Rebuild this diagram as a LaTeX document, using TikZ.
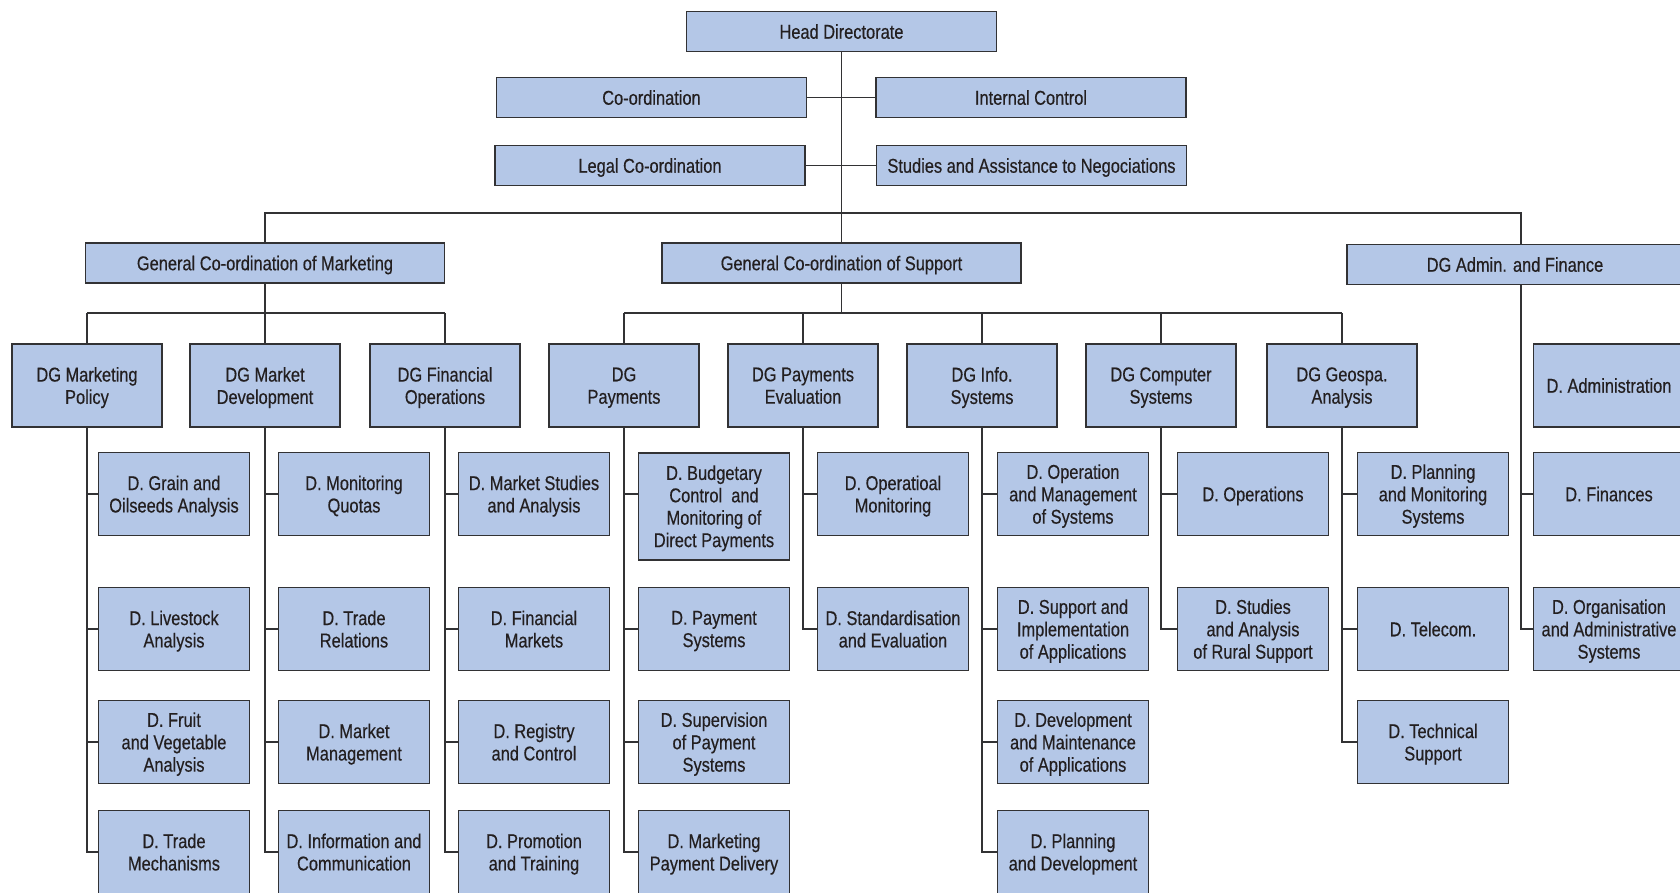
\documentclass[tikz,border=0pt]{standalone}
\usepackage{fontspec}
\setmainfont[FakeStretch=0.82,FakeBold=0.4]{Liberation Sans}
\usepackage{xcolor}
\definecolor{orgblue}{RGB}{180,199,231}
\definecolor{orgline}{RGB}{50,50,52}
\definecolor{orgtext}{RGB}{35,31,32}
\usetikzlibrary{positioning,calc}

\tikzset{
  unit/.style={draw=orgline,line width=1.5pt,fill=orgblue,text=orgtext,align=center,
    inner sep=0pt,text depth=0pt,font=\fontsize{20}{22.4}\selectfont},
  wide/.style={unit,minimum width=310pt,minimum height=40pt},
  dgbox/.style={unit,minimum width=150pt,minimum height=83pt},
  dept/.style={unit,minimum width=151pt,minimum height=83pt},
  link/.style={draw=orgline,line width=1.3pt}
}

\begin{document}
\begin{tikzpicture}[x=1pt,y=-1pt]
  \useasboundingbox (0,0) rectangle (1680,893);

  % top of the chart
  \node[wide] (head) at (841.5,31.5) {Head Directorate};
  \node[wide] (coord) at (651.5,97.5) {Co-ordination};
  \node[wide] (intctl) at (1031,97.5) {Internal Control};
  \node[wide] (legal) at (650,165.5) {Legal Co-ordination};
  \node[wide] (studies) at (1031.5,165.5) {Studies and Assistance to Negociations};
  \node[wide,minimum width=359pt] (gcmkt) at (265,263) {General Co-ordination of Marketing};
  \node[wide,minimum width=359pt] (gcsup) at (841.5,263) {General Co-ordination of Support};
  \node[wide,minimum width=336pt] (dgadmin) at (1515,264.5) {DG Admin. and Finance};

  \coordinate (abus) at (1521,213);
  \coordinate (mbus) at (0,313);
  \foreach \r/\y in {1/494,2/629,3/742,4/852}
    \coordinate (r\r) at (0,\y);

  \draw[link] (head) -- (gcsup);
  \draw[link] (coord) -- (intctl);
  \draw[link] (legal) -- (studies);
  \draw[link] (gcmkt.north) |- (abus) -- (abus |- dgadmin.north);

  % directorates general, with the centre of their column of directorates
  \foreach \n/\x/\cx/\txt in {mpol/87/174/{DG Marketing\\Policy}, mdev/265/354/{DG Market\\Development},
      fop/445/534/{DG Financial\\Operations}, pay/624/714/{DG\\Payments}, peval/803/893/{DG Payments\\Evaluation},
      info/982/1073/{DG Info.\\Systems}, comp/1161/1253/{DG Computer\\Systems}, geo/1342/1433/{DG Geospa.\\Analysis}}
  {
    \node[dgbox] (\n) at (\x,385.5) {\txt};
    \coordinate (\n-c) at (\cx,0);
    \draw[link] (\n.north) -- (\n.north |- mbus);
  }
  \node[dept] (admin-0) at (1609,385.5) {D. Administration};

  \draw[link] (gcmkt) -- (mdev);
  \draw[link] (gcsup.south) -- (gcsup.south |- mbus);
  \draw[link] (mpol.north |- mbus) -- (fop.north |- mbus);
  \draw[link] (pay.north |- mbus) -- (geo.north |- mbus);

  % directorates
  \node[dept,minimum height=107pt,anchor=north] (pay-1) at ($(pay-c |- r1)+(0,-42)$)
    {D. Budgetary\\Control~ and\\Monitoring of\\Direct Payments};
  \draw[link] (pay.south) |- (pay-1.west |- r1);

  \foreach \p/\r/\txt in {
      mpol/1/{D. Grain and\\Oilseeds Analysis}, mpol/2/{D. Livestock\\Analysis},
      mpol/3/{D. Fruit\\and Vegetable\\Analysis}, mpol/4/{D. Trade\\Mechanisms},
      mdev/1/{D. Monitoring\\Quotas}, mdev/2/{D. Trade\\Relations},
      mdev/3/{D. Market\\Management}, mdev/4/{D. Information and\\Communication},
      fop/1/{D. Market Studies\\and Analysis}, fop/2/{D. Financial\\Markets},
      fop/3/{D. Registry\\and Control}, fop/4/{D. Promotion\\and Training},
      pay/2/{D. Payment\\Systems}, pay/3/{D. Supervision\\of Payment\\Systems},
      pay/4/{D. Marketing\\Payment Delivery},
      peval/1/{D. Operatioal\\Monitoring}, peval/2/{D. Standardisation\\and Evaluation},
      info/1/{D. Operation\\and Management\\of Systems}, info/2/{D. Support and\\Implementation\\of Applications},
      info/3/{D. Development\\and Maintenance\\of Applications}, info/4/{D. Planning\\and Development},
      comp/1/{D. Operations}, comp/2/{D. Studies\\and Analysis\\of Rural Support},
      geo/1/{D. Planning\\and Monitoring\\Systems}, geo/2/{D. Telecom.},
      geo/3/{D. Technical\\Support}}
  {
    \node[dept] (\p-\r) at (\p-c |- r\r) {\txt};
    \draw[link] (\p.south) |- (\p-\r.west);
  }

  % admin and finance
  \node[dept] (admin-1) at (1609,494) {D. Finances};
  \node[dept] (admin-2) at (1609,629) {D. Organisation\\and Administrative\\Systems};
  \draw[link] (abus |- dgadmin.south) |- (admin-1.west);
  \draw[link] (abus |- dgadmin.south) |- (admin-2.west);
\end{tikzpicture}
\end{document}
